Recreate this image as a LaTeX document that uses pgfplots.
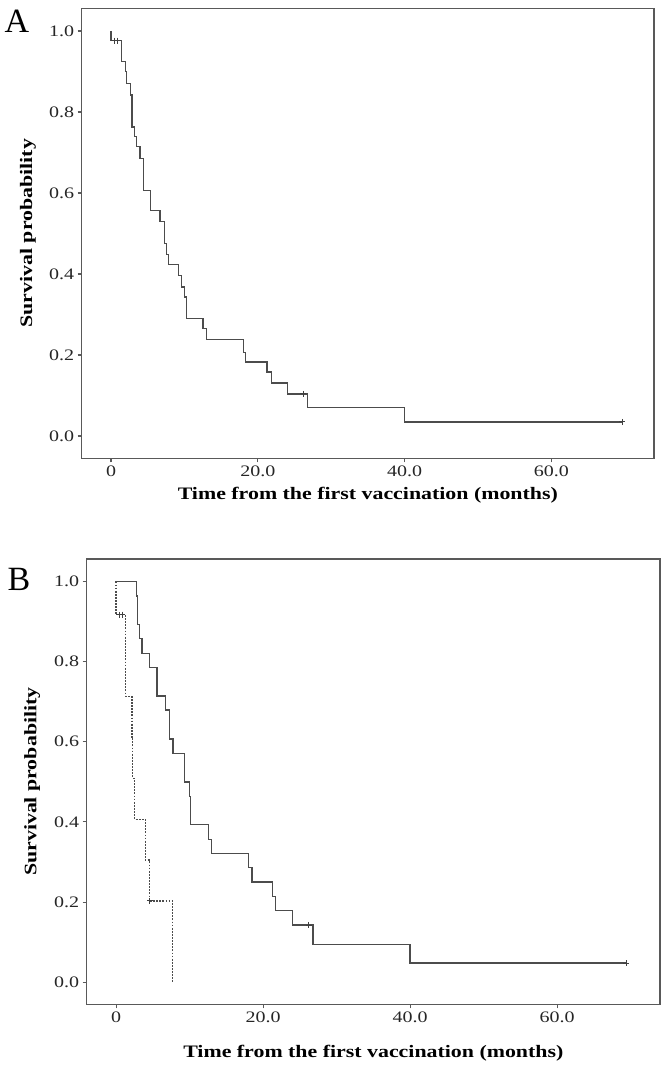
\documentclass[border=0pt]{standalone}
\usepackage{fontspec}
\setmainfont{Liberation Serif}[FakeStretch=1.25]
\newfontfamily\letterfont{Liberation Serif}
\usepackage{pgfplots}
\pgfplotsset{compat=1.18}

% Kaplan-Meier curves: (time in months, survival)
\pgfplotstableread{
t S
0 1
0 0.976
1.41 0.924
1.95 0.900
2.14 0.871
2.68 0.842
2.87 0.763
3.18 0.739
3.50 0.714
3.96 0.685
4.41 0.607
5.41 0.556
6.69 0.529
7.28 0.475
7.60 0.449
7.87 0.423
9.24 0.397
9.56 0.368
10.01 0.343
10.33 0.290
12.52 0.265
12.98 0.238
18.07 0.207
18.35 0.183
21.26 0.158
21.86 0.131
24.04 0.104
26.78 0.070
40.00 0.035
69.7 0.035
}\allpts

\pgfplotstableread{
t S
0.4 0.976
0.9 0.976
26.2 0.104
69.7 0.035
}\allcens

\pgfplotstableread{
t S
0 1
2.80 0.964
2.95 0.893
3.20 0.857
3.53 0.821
4.53 0.786
5.57 0.714
6.70 0.679
7.29 0.607
7.74 0.571
9.35 0.500
10.00 0.464
10.15 0.393
12.60 0.357
12.95 0.321
18.00 0.286
18.50 0.250
21.30 0.214
21.70 0.179
24.00 0.143
26.80 0.095
40.00 0.048
69.4 0.048
}\solid

\pgfplotstableread{
t S
26.2 0.143
69.4 0.048
}\solidcens

\pgfplotstableread{
t S
0 1
0 0.917
1.33 0.713
2.15 0.611
2.28 0.509
2.50 0.407
3.95 0.305
4.50 0.203
7.71 0
}\dashed

\pgfplotstableread{
t S
0.45 0.917
0.85 0.917
4.6 0.203
}\dashedcens

\pgfplotsset{
  km/.style={
    scale only axis,
    xmin=-4, xmax=74, ymin=-0.055, ymax=1.056,
    axis line style={black!65, line width=1.4pt},
    tick align=outside, tick pos=left,
    major tick length=4pt,
    tick style={black!65, line width=1.1pt},
    xtick={0,20,40,60}, xticklabels={0,20.0,40.0,60.0},
    ytick={0,0.2,0.4,0.6,0.8,1},
    yticklabels={0.0,0.2,0.4,0.6,0.8,1.0},
    tick label style={font=\fontsize{16}{18}\selectfont, black!85},
    label style={font=\bfseries\fontsize{17.5}{20}\selectfont},
    xlabel={Time from the first vaccination (months)},
    ylabel={Survival probability},
  },
  curve/.style={const plot, black!70, line width=1.3pt, mark=none},
  cens/.style={only marks, mark=+, mark size=3pt, black!75, mark options={line width=0.9pt}},
}

\begin{document}
\begin{tikzpicture}
\useasboundingbox (0,0) rectangle (664pt,-1070pt);

\begin{axis}[km, at={(81.7pt,-458.3pt)}, anchor=south west,
  width=572.3pt, height=450pt,
  xlabel style={at={(axis description cs:0.5,-0.082)}, anchor=center},
  ylabel style={at={(axis description cs:-0.094,0.5)}, anchor=center}]
  \addplot[curve] table[x=t,y=S] {\allpts};
  \addplot[cens] table[x=t,y=S] {\allcens};
\end{axis}

\begin{axis}[km, at={(86.7pt,-1004.3pt)}, anchor=south west,
  width=573.3pt, height=445.3pt,
  xlabel style={at={(axis description cs:0.5,-0.11)}, anchor=center},
  ylabel style={at={(axis description cs:-0.095,0.5)}, anchor=center}]
  \addplot[curve] table[x=t,y=S] {\solid};
  \addplot[cens] table[x=t,y=S] {\solidcens};
  \addplot[curve, line width=1.2pt, dash pattern=on 1.8pt off 1.3pt] table[x=t,y=S] {\dashed};
  \addplot[cens] table[x=t,y=S] {\dashedcens};
\end{axis}

\node[font=\letterfont\fontsize{34}{36}\selectfont] at (17pt,-21pt) {A};
\node[font=\letterfont\fontsize{34}{36}\selectfont] at (19pt,-579pt) {B};
\end{tikzpicture}
\end{document}
